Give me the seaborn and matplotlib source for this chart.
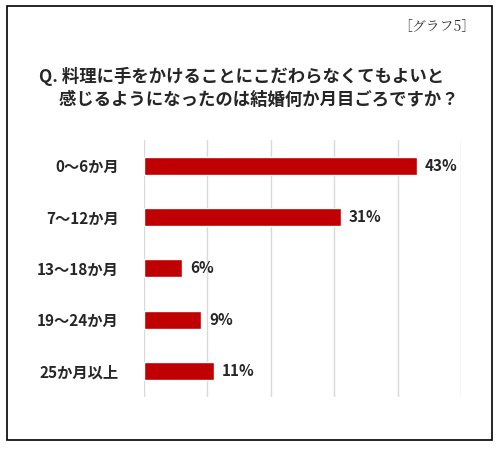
import matplotlib
matplotlib.use("Agg")
import matplotlib.pyplot as plt
import seaborn as sns
import pandas as pd
from matplotlib.patches import Rectangle

categories = ["0～6か月", "7～12か月", "13～18か月", "19～24か月", "25か月以上"]
values = [43, 31, 6, 9, 11]
labels = ["43%", "31%", "6%", "9%", "11%"]

sns.set_theme(style="white")
plt.rcParams['font.family'] = ['Noto Sans CJK JP', 'DejaVu Sans']

df = pd.DataFrame({"cat": categories, "val": values})
fig = plt.figure(figsize=(5, 4.5), dpi=100)
ax = fig.add_axes([0.288, 0.118, 0.634, 0.571])
sns.barplot(data=df, y="cat", x="val", color="#C00000", saturation=1, width=0.35, ax=ax, orient="h")
ax.set_xlim(0, 50)
ax.set_ylim(4.5, -0.5)
ax.set_xticks([0, 10, 20, 30, 40, 50])
ax.xaxis.grid(True, color="#D9D9D9", lw=1)
ax.set_axisbelow(True)
ax.set_xticklabels([])
ax.tick_params(axis='x', length=0)
ax.tick_params(axis='y', length=0, labelsize=11, pad=18)
for t in ax.get_yticklabels():
    t.set_fontweight("bold")
ax.set_xlabel("")
ax.set_ylabel("")
for s in ax.spines.values():
    s.set_visible(False)
for i, (v, l) in enumerate(zip(values, labels)):
    ax.text(v + 1.3, i, l, va="center", ha="left", fontsize=11, fontweight="bold")

fig.patches.append(Rectangle((0.014, 0.022), 0.970, 0.964, transform=fig.transFigure,
                             fill=False, edgecolor="black", lw=1.2))
fig.text(0.95, 0.94, "［グラフ5］", ha="right", va="center", fontsize=10, color="#333333",
         family=['Noto Serif CJK JP', 'Noto Sans CJK JP', 'DejaVu Sans'])
fig.text(0.078, 0.805, "Q. 料理に手をかけることにこだわらなくてもよいと\n     感じるようになったのは結婚何か月目ごろですか？",
         ha="left", va="center", fontsize=12.5, fontweight="bold", linespacing=1.4)
fig.savefig("out.png", dpi=100)
